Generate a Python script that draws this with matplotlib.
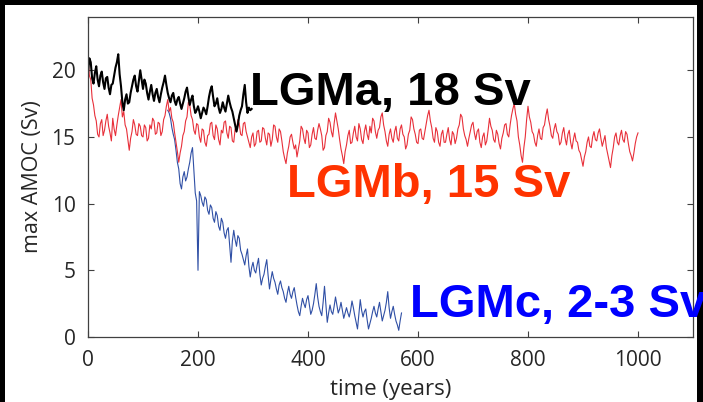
import numpy as np
import matplotlib

matplotlib.use("Agg")
import matplotlib.pyplot as plt
from matplotlib.patches import Rectangle

# max AMOC (Sv), one value every 2.5 years
step = 2.5

lgma_start = 0
lgma = [
    19.8, 20.9, 20.6, 19.4, 19.0, 19.8, 20.3, 19.3, 18.8, 19.6, 19.9, 19.1, 18.6, 19.4, 19.5, 18.7, 18.2, 18.9, 19.0, 19.6,
    20.2, 20.6, 21.2, 19.7, 18.8, 17.6, 17.0, 17.8, 18.2, 17.5, 17.6, 18.3, 18.8, 19.3, 19.6, 18.8, 18.4, 19.2, 20.0, 19.3,
    18.6, 19.3, 19.0, 18.3, 17.8, 18.4, 18.9, 18.2, 17.7, 18.3, 18.6, 18.0, 17.6, 18.2, 18.7, 19.1, 19.6, 18.9, 18.3, 17.9,
    17.6, 18.1, 18.3, 17.7, 17.4, 17.8, 18.0, 17.5, 17.1, 17.5, 17.9, 18.4, 18.7, 18.0, 17.4, 17.8, 18.1, 17.3, 16.8, 17.0,
    17.3, 16.9, 16.4, 16.8, 17.2, 17.0, 16.7, 17.3, 18.0, 18.5, 18.8, 18.0, 17.3, 17.5, 17.9, 17.2, 16.8, 17.1, 17.6, 17.2,
    16.9, 17.5, 18.1, 17.6, 17.2, 16.9, 16.4, 15.9, 15.4, 15.9, 16.6, 17.0, 17.3, 18.2, 18.9, 17.6, 16.8, 17.2, 17.0, 17.1,
]

lgmb_start = 0
lgmb = [
    20.8, 19.6, 19.3, 17.9, 17.4, 16.6, 16.2, 15.2, 15.0, 16.0, 16.3, 15.1, 15.5, 16.2, 16.7, 15.8, 15.3, 14.7, 16.4, 15.6,
    15.1, 15.9, 16.6, 17.2, 17.8, 16.5, 16.9, 15.9, 15.6, 14.8, 14.0, 14.9, 15.4, 16.3, 15.9, 15.2, 15.1, 16.0, 15.8, 15.1,
    15.0, 15.9, 15.7, 14.7, 14.9, 15.9, 15.6, 16.4, 16.2, 15.2, 15.3, 16.1, 16.0, 15.1, 15.4, 16.3, 16.6, 17.3, 17.8, 16.9,
    17.2, 16.4, 16.1, 15.3, 14.6, 13.9, 13.1, 13.8, 14.3, 15.1, 15.4, 16.2, 16.5, 17.6, 17.4, 16.6, 16.3, 15.5, 15.2, 16.0,
    15.9, 15.0, 14.6, 15.6, 15.5, 14.6, 14.3, 15.1, 15.2, 16.0, 16.1, 15.1, 14.8, 15.9, 15.6, 14.8, 14.4, 15.5, 15.3, 16.1,
    16.2, 15.3, 14.9, 15.8, 15.7, 14.7, 14.6, 15.6, 15.4, 16.3, 16.0, 15.2, 15.1, 16.0, 16.1, 15.4, 15.0, 14.6, 14.2, 15.0,
    15.3, 14.3, 14.5, 15.4, 15.5, 14.6, 14.7, 15.7, 15.6, 14.9, 14.4, 15.3, 15.2, 14.3, 14.8, 15.9, 15.8, 15.0, 14.6, 15.6,
    15.4, 14.7, 13.9, 13.4, 13.0, 13.8, 14.3, 15.0, 15.2, 14.6, 14.1, 14.4, 13.5, 14.1, 14.7, 15.8, 15.6, 14.9, 14.5, 15.5,
    15.3, 14.2, 14.4, 15.2, 15.7, 14.9, 14.8, 15.5, 16.0, 15.6, 15.1, 14.0, 14.2, 15.1, 15.4, 16.4, 16.1, 15.4, 15.0, 16.0,
    16.8, 16.2, 15.6, 14.8, 14.1, 13.6, 13.0, 13.9, 14.4, 15.1, 15.5, 14.5, 14.6, 15.3, 15.8, 15.0, 14.7, 16.0, 15.6, 14.8,
    14.5, 15.4, 15.9, 15.2, 14.8, 15.8, 15.3, 16.4, 16.2, 15.4, 14.9, 15.5, 15.7, 16.5, 16.8, 15.9, 15.4, 14.7, 14.3, 15.2,
    15.6, 14.9, 14.6, 15.4, 15.8, 14.9, 14.7, 15.6, 15.9, 15.2, 15.0, 14.1, 14.4, 15.2, 15.5, 16.5, 16.3, 15.6, 15.2, 14.6,
    14.5, 15.5, 15.6, 14.9, 14.8, 15.4, 16.0, 16.6, 17.0, 16.2, 15.7, 14.9, 14.6, 15.7, 15.4, 14.6, 14.3, 15.2, 15.5, 14.6,
    14.6, 15.2, 15.7, 14.8, 14.4, 15.4, 15.2, 14.5, 14.9, 15.6, 15.9, 16.7, 16.5, 15.6, 15.1, 14.8, 14.3, 14.9, 15.4, 15.9,
    16.1, 15.3, 14.8, 15.4, 15.6, 14.6, 14.2, 15.0, 15.3, 14.4, 14.7, 15.5, 16.4, 15.8, 15.5, 14.8, 14.6, 15.5, 15.2, 14.5,
    14.1, 14.9, 15.3, 15.9, 16.0, 15.2, 15.0, 15.9, 16.6, 17.1, 17.5, 16.7, 16.2, 15.0, 14.4, 13.6, 13.1, 14.2, 15.0, 16.3,
    17.3, 16.5, 16.1, 15.4, 15.2, 14.6, 14.3, 15.1, 15.6, 14.9, 14.8, 15.7, 15.9, 16.6, 17.1, 16.3, 15.8, 15.1, 14.9, 15.6,
    16.0, 15.4, 15.2, 14.4, 14.6, 15.3, 15.7, 14.9, 14.4, 15.2, 15.5, 14.6, 14.1, 14.8, 15.3, 14.7, 14.6, 14.0, 13.8, 13.3,
    12.8, 13.5, 13.9, 14.6, 15.0, 14.3, 14.2, 15.0, 15.4, 14.8, 14.7, 15.3, 15.6, 14.9, 14.3, 14.7, 15.1, 14.2, 13.7, 13.2,
    12.7, 13.6, 14.2, 15.0, 15.3, 14.6, 14.4, 15.1, 15.5, 14.8, 14.6, 15.4, 15.2, 14.5, 13.9, 13.6, 13.2, 13.8, 14.5, 15.0,
    15.3,
]

lgmc_start = 145
lgmc = [
    17.0, 16.8, 16.4, 15.7, 15.2, 14.8, 14.0, 13.1, 12.6, 11.5, 11.1, 12.0, 12.4, 11.7, 12.0, 12.6, 13.1, 13.8, 14.2, 12.5,
    10.8, 10.2, 5.0, 10.9, 10.6, 10.1, 9.8, 10.5, 10.3, 9.5, 9.2, 9.9, 9.7, 8.9, 8.6, 9.4, 9.1, 8.3, 8.0, 8.9,
    8.6, 7.8, 7.4, 8.0, 8.2, 6.9, 5.6, 7.2, 8.0, 7.3, 6.8, 7.6, 7.4, 6.5, 6.2, 5.8, 5.4, 6.1, 6.6, 5.3,
    4.5, 5.2, 5.6, 5.0, 4.8, 5.4, 5.9, 4.7, 3.9, 4.4, 4.7, 5.3, 5.8, 4.6, 3.6, 4.3, 4.9, 4.4, 4.1, 3.6,
    3.2, 3.9, 4.2, 3.7, 3.4, 2.9, 2.6, 3.3, 3.8, 3.2, 2.9, 3.4, 3.7, 3.0, 2.4, 1.9, 1.6, 2.3, 2.9, 2.5,
    2.2, 2.8, 3.1, 2.4, 1.7, 2.0, 2.5, 3.2, 4.0, 3.0, 2.3, 1.9, 1.6, 2.6, 3.8, 2.4, 1.1, 1.8, 2.4, 1.9,
    1.7, 2.3, 3.0, 2.4, 1.8, 2.1, 2.6, 2.0, 1.4, 1.8, 2.2, 1.8, 1.5, 2.0, 2.7, 2.2, 1.6, 1.1, 0.6, 1.7,
    2.8, 2.0, 1.5, 1.9, 2.1, 1.3, 0.6, 1.0, 1.4, 1.9, 2.3, 1.8, 1.5, 2.1, 2.6, 1.9, 1.2, 1.6, 2.0, 2.6,
    3.4, 2.2, 1.4, 1.9, 2.3, 1.7, 1.2, 0.9, 0.5, 1.2, 1.8,
]

labels = ["LGMa, 18 Sv", "LGMb, 15 Sv", "LGMc, 2-3 Sv"]
label_x = [295, 361, 585]
label_y = [17.4, 10.5, 1.52]
label_colors = ["#000000", "#ff3300", "#0000ff"]

xticks = [0, 200, 400, 600, 800, 1000]
yticks = [0, 5, 10, 15, 20]


def years(start, vals):
    return start + step * np.arange(len(vals))


# 4.021 so that the canvas height rounds to 402 px, not 401
fig = plt.figure(figsize=(7.03, 4.021), dpi=100)
# black figure with a white panel: leaves a black frame on top, left and right
fig.patch.set_facecolor("black")
panel = Rectangle((5 / 703, 0), 692 / 703, 397 / 402, facecolor="white",
                  edgecolor="none", zorder=-10, transform=fig.transFigure)
fig.add_artist(panel)
ax = fig.add_axes([88 / 703, 65 / 402, 605 / 703, 320 / 402])

ax.plot(years(lgmc_start, lgmc), lgmc, color="#2f4fa5", lw=0.8)
ax.plot(years(lgmb_start, lgmb), lgmb, color="#e8303a", lw=0.8)
ax.plot(years(lgma_start, lgma), lgma, color="#000000", lw=1.5)

for txt, x, y, c in zip(labels, label_x, label_y, label_colors):
    t = ax.text(x, y, txt, color=c, fontsize=34, fontweight="bold",
                family="Liberation Sans", va="baseline", ha="left")
    # the labels run past the axes but stop at the black frame
    t.set_clip_path(panel)

ax.set_xlim(0, 1100)
ax.set_ylim(0, 24)
ax.set_xticks(xticks)
ax.set_yticks(yticks)
ax.tick_params(direction="in", top=True, right=True, length=4, width=0.8,
               color="#404040", labelsize=15, labelcolor="#262626", pad=9)
for lab in ax.get_xticklabels() + ax.get_yticklabels():
    lab.set_family("Open Sans")
for sp in ax.spines.values():
    sp.set_color("#404040")
    sp.set_linewidth(0.9)

ax.set_xlabel("time (years)", fontsize=16, color="#262626", family="Open Sans", labelpad=6)
ax.set_ylabel("max AMOC (Sv)", fontsize=15.5, color="#262626", family="Open Sans", labelpad=6)

fig.savefig("out.png", dpi=100, facecolor="black")
